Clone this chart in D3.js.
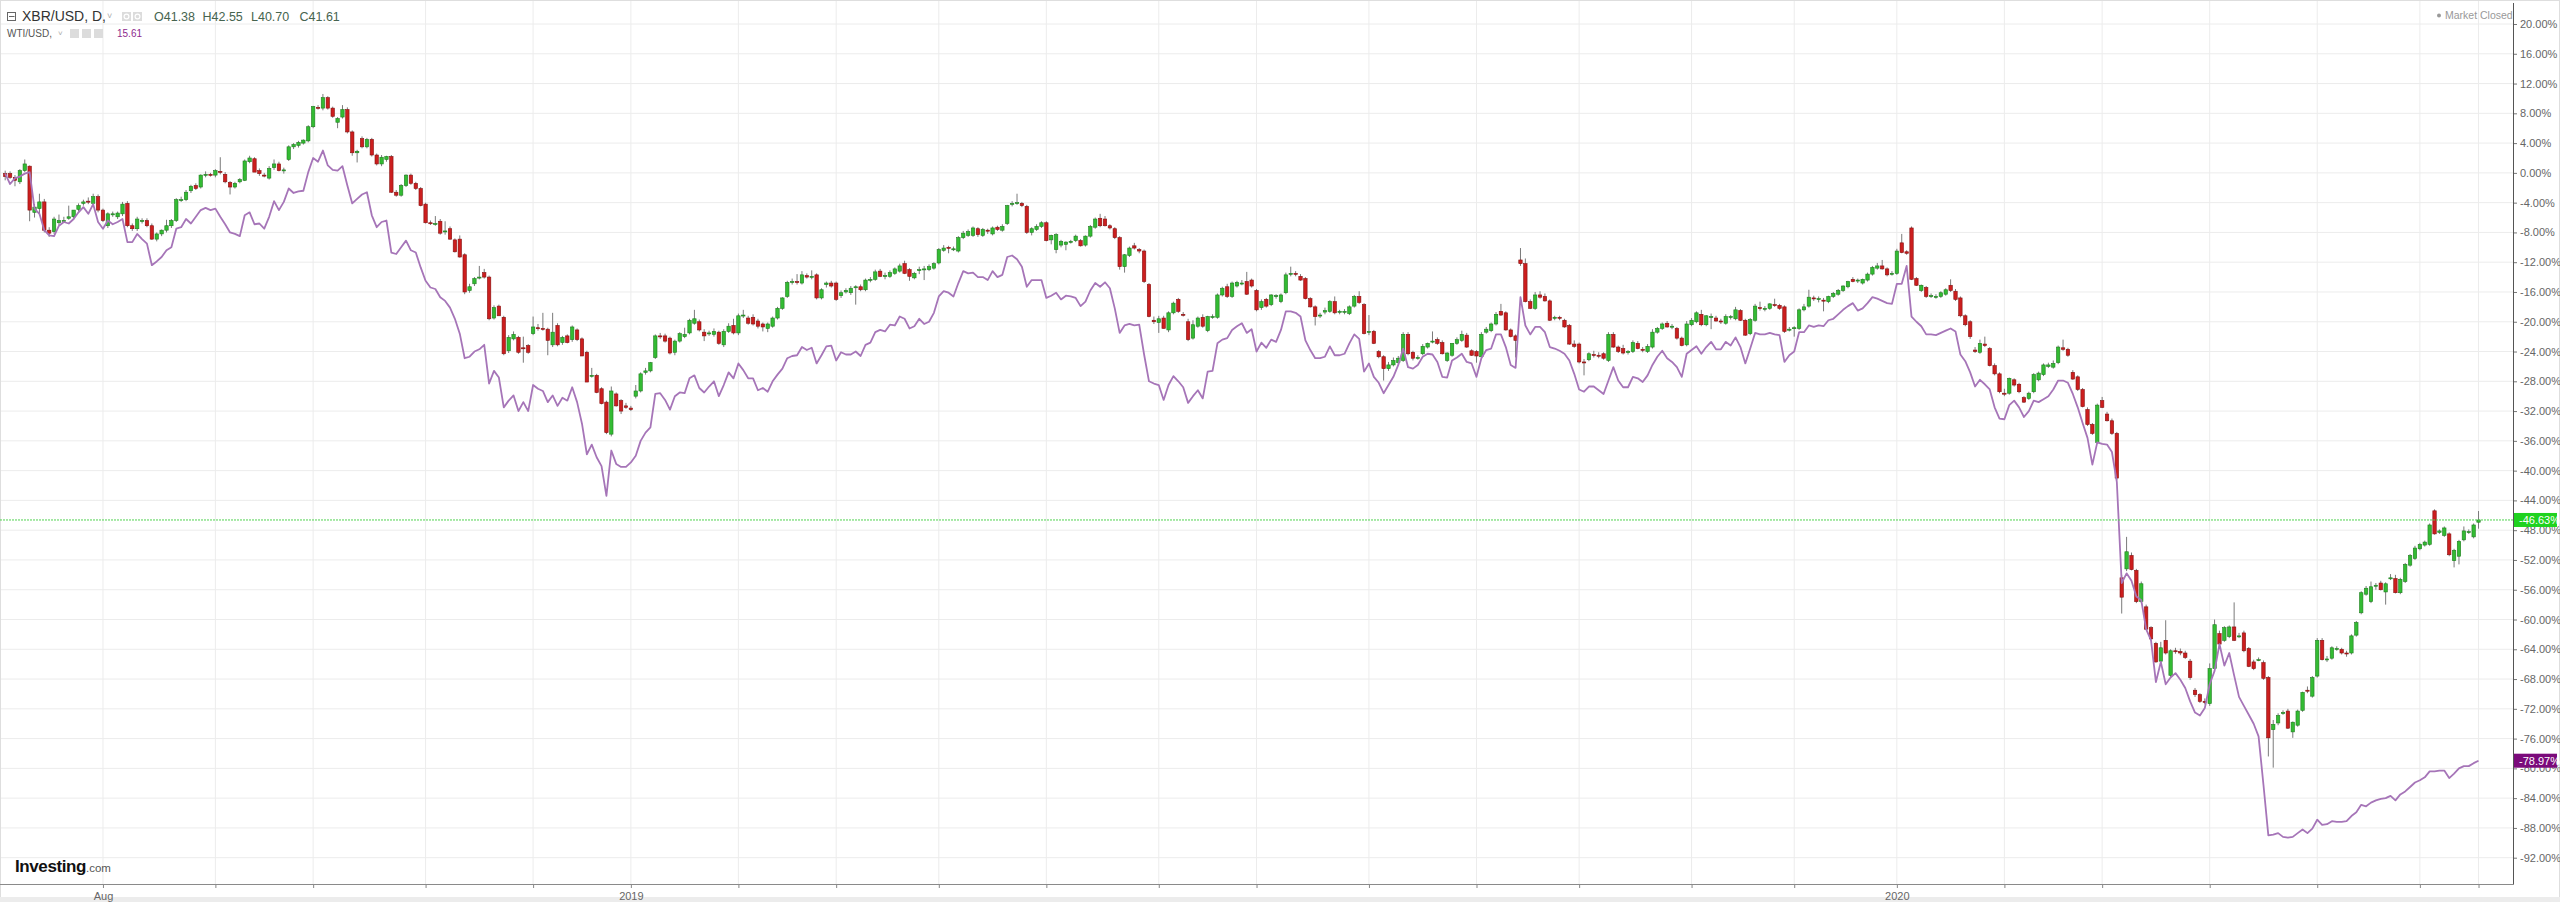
<!DOCTYPE html>
<html>
<head>
<meta charset="utf-8">
<script src="https://cdn.jsdelivr.net/npm/d3@7"></script>
<style>
  body { margin: 0; background: #fff; }
  svg { display: block; font-family: 'Liberation Sans', Arial, sans-serif; }
</style>
</head>
<body>
<svg id="svg" width="2560" height="902"></svg>
<script>
// XBR/USD daily candles as % change from the first day: [open, high, low, close]
const xbrCandles = [
  [-0.1,0.3,-1.0,-0.5],[-0.1,0.2,-0.8,-0.6],[-0.6,-0.3,-1.8,-1.0],[-1.2,0.5,-1.5,0.3],[0.3,1.8,0.1,1.2],[0.9,1.0,-6.5,-5.0],
  [-5.3,-4.2,-6.0,-4.6],[-4.8,-2.8,-5.5,-3.9],[-3.9,-3.5,-8.0,-7.7],[-7.7,-7.3,-8.6,-8.1],[-7.9,-5.9,-8.2,-6.2],[-6.7,-5.6,-7.0,-6.4],
  [-6.4,-5.9,-6.7,-6.4],[-6.1,-4.4,-6.3,-5.9],[-5.9,-5.0,-6.3,-5.0],[-4.9,-4.1,-5.2,-4.4],[-4.1,-3.6,-4.4,-3.9],[-3.8,-3.3,-4.2,-3.9],
  [-4.1,-2.8,-4.3,-3.2],[-3.2,-2.9,-5.3,-5.0],[-5.0,-4.8,-6.6,-6.4],[-7.1,-5.3,-7.4,-5.5],[-5.5,-5.2,-5.9,-5.5],[-5.9,-5.2,-6.2,-5.4],
  [-5.5,-3.9,-5.8,-4.2],[-4.1,-3.8,-7.3,-7.1],[-7.1,-6.8,-7.8,-7.5],[-7.5,-5.9,-7.8,-6.2],[-6.4,-6.1,-6.8,-6.4],[-6.4,-6.1,-7.3,-7.1],
  [-7.1,-6.8,-9.0,-8.9],[-8.9,-8.0,-9.2,-8.2],[-8.2,-7.6,-8.5,-7.7],[-7.7,-6.3,-8.0,-7.1],[-7.1,-6.2,-7.4,-6.4],[-6.4,-3.4,-6.6,-3.6],
  [-3.6,-3.2,-3.9,-3.6],[-3.6,-2.3,-3.8,-2.6],[-2.4,-1.6,-2.7,-1.8],[-1.7,-1.4,-2.3,-2.1],[-1.9,-0.2,-2.1,-0.3],[-0.3,0.2,-0.6,-0.2],
  [-0.2,0.0,-0.5,-0.3],[-0.3,0.5,-0.6,0.3],[0.2,2.1,-0.2,0.1],[-0.2,0.1,-1.4,-1.2],[-1.3,-1.1,-2.9,-1.9],[-1.9,-1.2,-2.1,-1.4],
  [-1.2,-0.7,-1.4,-0.9],[-1.0,1.8,-1.1,1.6],[1.5,2.3,1.3,2.0],[1.9,2.1,0.3,0.1],[0.3,0.6,-0.4,-0.1],[-0.3,0.0,-0.6,-0.4],
  [-0.7,0.9,-0.9,0.6],[0.7,1.8,0.4,1.2],[1.2,1.5,0.2,0.3],[0.4,0.7,-0.1,0.4],[1.8,3.7,1.6,3.5],[3.5,4.0,3.2,3.8],
  [3.7,4.3,3.4,4.1],[4.0,4.5,3.8,4.4],[4.3,6.4,4.1,6.2],[6.2,9.0,6.0,8.9],[8.8,9.1,8.5,8.7],[8.7,10.6,8.4,10.1],
  [10.1,10.3,8.5,8.7],[8.7,8.9,7.4,7.6],[6.8,7.5,6.0,7.3],[7.5,9.1,7.3,8.5],[8.5,8.8,5.3,5.5],[5.5,5.7,2.3,2.7],
  [2.7,3.1,1.4,2.9],[4.6,4.9,3.3,3.5],[3.5,4.7,3.3,4.5],[4.5,4.7,2.2,2.4],[2.4,2.6,1.0,1.2],[1.2,2.4,0.9,2.1],
  [1.8,2.3,1.5,2.2],[2.2,2.4,-2.7,-2.6],[-2.6,-2.3,-3.2,-3.0],[-3.0,-1.5,-3.2,-1.7],[-1.7,-0.2,-1.9,-0.3],[-0.3,-0.1,-1.6,-1.4],
  [-1.4,-1.2,-2.3,-2.1],[-2.1,-1.9,-4.5,-4.4],[-4.2,-4.0,-6.8,-6.7],[-6.7,-6.4,-7.0,-6.8],[-6.8,-5.8,-7.1,-6.8],[-6.5,-6.2,-8.3,-8.1],
  [-7.9,-6.5,-8.3,-7.8],[-7.5,-7.2,-9.0,-8.9],[-9.0,-8.8,-10.7,-10.6],[-8.9,-8.4,-11.4,-11.3],[-11.0,-10.8,-16.3,-16.0],[-15.8,-14.9,-16.1,-15.3],
  [-14.9,-14.0,-15.2,-14.2],[-14.0,-12.5,-14.3,-14.0],[-13.4,-12.9,-14.2,-14.0],[-14.0,-13.8,-19.8,-19.6],[-19.5,-17.8,-19.7,-18.1],[-17.9,-17.7,-19.2,-19.2],
  [-19.4,-19.2,-24.5,-24.3],[-23.9,-21.8,-24.2,-22.1],[-22.3,-21.3,-22.5,-21.7],[-22.1,-21.9,-24.3,-24.1],[-23.5,-22.0,-25.5,-23.6],[-23.2,-23.0,-24.3,-24.1],
  [-21.6,-19.3,-21.8,-20.7],[-20.8,-20.3,-21.2,-20.9],[-20.9,-18.8,-21.2,-21.0],[-21.0,-20.8,-24.5,-22.5],[-23.1,-18.8,-23.4,-21.4],[-20.5,-20.2,-23.3,-23.1],
  [-22.8,-21.9,-23.1,-22.1],[-21.9,-21.7,-22.9,-22.8],[-22.4,-20.5,-22.7,-20.7],[-21.1,-20.9,-22.6,-22.4],[-22.3,-22.1,-24.6,-24.6],[-24.1,-23.9,-28.1,-28.1],
  [-27.2,-26.2,-27.5,-27.2],[-27.2,-27.0,-29.6,-29.5],[-29.0,-28.8,-31.1,-31.0],[-30.8,-30.6,-35.1,-34.9],[-35.1,-28.7,-35.4,-29.3],[-29.7,-29.5,-31.4,-31.3],
  [-30.6,-30.4,-32.4,-32.0],[-31.3,-30.9,-31.7,-31.5],[-31.6,-31.3,-32.0,-31.8],[-30.0,-28.5,-30.3,-29.3],[-29.3,-26.8,-29.5,-27.0],[-26.8,-26.2,-27.1,-26.6],
  [-26.6,-25.4,-26.8,-25.5],[-24.8,-21.7,-25.0,-21.9],
  [-21.9,-21.5,-22.3,-22.0],[-21.9,-21.6,-22.8,-22.6],[-22.2,-22.0,-24.4,-24.2],[-24.1,-22.4,-24.5,-22.6],[-22.6,-21.4,-22.8,-21.6],[-22.0,-20.8,-22.2,-21.7],
  [-21.5,-19.6,-21.7,-19.8],[-20.2,-18.4,-20.4,-19.6],[-20.0,-19.7,-21.3,-21.1],[-21.4,-21.0,-22.6,-21.9],[-21.6,-21.2,-21.9,-21.5],[-21.7,-20.9,-22.0,-21.3],
  [-21.4,-21.2,-23.1,-22.9],[-23.1,-21.0,-23.4,-21.3],[-21.3,-20.2,-21.5,-20.6],[-20.5,-19.6,-21.7,-21.5],[-21.5,-18.9,-21.8,-19.2],[-19.2,-18.4,-19.5,-19.1],
  [-19.5,-19.2,-20.4,-20.2],[-19.4,-19.0,-20.5,-20.3],[-19.9,-19.6,-20.9,-20.6],[-20.3,-20.1,-21.3,-20.7],[-20.9,-20.1,-21.4,-20.3],[-20.6,-19.3,-20.8,-19.5],
  [-19.5,-18.0,-19.7,-18.2],[-18.2,-16.7,-18.4,-16.8],[-16.6,-14.5,-16.8,-14.7],[-14.6,-14.2,-15.0,-14.6],[-14.6,-13.6,-15.0,-14.7],[-14.8,-13.2,-15.0,-13.7],
  [-13.8,-13.5,-14.2,-14.0],[-13.9,-13.1,-14.3,-13.9],[-13.7,-13.5,-17.0,-16.8],[-16.8,-15.5,-17.0,-15.7],[-15.0,-14.6,-15.4,-14.8],[-14.8,-14.5,-15.4,-15.2],
  [-14.8,-14.6,-17.2,-17.0],[-16.5,-15.8,-16.8,-16.1],[-16.0,-15.5,-16.2,-15.8],[-16.1,-15.2,-16.4,-15.5],[-15.4,-15.1,-17.7,-15.3],[-15.3,-15.0,-15.9,-15.7],
  [-15.7,-14.2,-15.9,-14.4],[-14.4,-14.0,-14.7,-14.3],[-14.3,-13.0,-14.5,-13.3],[-13.2,-12.9,-14.0,-13.9],[-13.8,-13.4,-14.3,-13.8],[-13.9,-13.1,-14.1,-13.4],
  [-13.5,-12.7,-13.7,-12.9],[-13.2,-12.2,-13.4,-12.5],[-12.2,-11.8,-13.6,-13.5],[-13.0,-12.8,-14.5,-13.9],[-14.1,-13.3,-14.3,-13.5],[-13.1,-12.6,-13.6,-13.0],
  [-12.9,-12.5,-14.4,-12.9],[-13.0,-12.3,-13.2,-12.6],[-12.8,-12.0,-13.0,-12.2],[-12.1,-10.1,-12.3,-10.3],[-10.4,-9.7,-10.6,-10.1],[-10.0,-9.8,-10.8,-10.1],
  [-10.2,-9.9,-10.5,-10.2],[-10.5,-8.5,-10.7,-8.7],[-8.7,-7.8,-8.9,-8.1],[-8.4,-7.6,-8.6,-7.9],[-8.4,-7.2,-8.6,-7.4],[-7.5,-7.3,-8.6,-8.3],
  [-8.4,-7.4,-8.6,-7.6],[-7.7,-7.5,-8.2,-7.8],[-8.2,-7.2,-8.4,-7.4],[-7.3,-7.1,-7.8,-7.6],[-7.7,-6.9,-7.9,-7.2],[-6.8,-4.3,-7.0,-4.4],
  [-4.2,-3.8,-4.5,-4.1],[-4.1,-2.8,-4.3,-4.0],[-4.1,-3.9,-4.6,-4.4],[-4.5,-4.3,-8.2,-8.0],[-8.0,-7.3,-8.4,-7.5],[-7.6,-6.9,-7.8,-7.2],
  [-7.2,-6.5,-7.4,-6.7],[-6.7,-6.5,-9.2,-9.1],[-9.0,-8.3,-9.6,-8.4],[-10.3,-8.1,-10.8,-8.3],[-9.7,-9.0,-10.0,-9.2],[-9.6,-9.2,-10.4,-9.3],
  [-9.2,-9.0,-9.5,-9.2],[-9.1,-8.3,-9.3,-8.5],[-9.1,-8.9,-9.9,-9.8],[-9.7,-8.4,-9.9,-8.5],[-8.5,-7.0,-8.7,-7.2],[-7.3,-6.0,-7.5,-6.2],
  [-6.1,-5.5,-7.3,-7.1],[-6.2,-5.8,-7.2,-7.1],[-7.1,-6.9,-7.6,-7.4],[-7.5,-7.3,-8.9,-8.7],[-8.7,-8.5,-13.0,-12.6],[-12.6,-10.9,-13.4,-11.0],
  [-11.1,-9.9,-11.3,-10.1],[-9.8,-9.4,-10.3,-10.1],[-10.3,-10.1,-10.8,-10.5],[-10.5,-10.3,-14.8,-14.6],[-15.0,-14.8,-19.4,-19.3],[-19.8,-19.3,-20.3,-20.0],
  [-20.1,-19.2,-21.5,-19.6],[-19.5,-19.2,-20.9,-20.9],[-21.1,-18.6,-21.4,-18.8],[-18.8,-17.3,-19.0,-17.5],[-17.0,-16.8,-18.8,-18.6],[-19.0,-18.7,-19.3,-19.1],
  [-20.0,-19.6,-22.6,-22.4],[-22.2,-19.8,-22.4,-20.4],[-20.6,-19.3,-20.8,-19.5],[-19.4,-19.0,-20.8,-20.6],[-21.2,-19.2,-21.4,-19.3],[-19.3,-19.0,-19.6,-19.3],
  [-19.4,-16.2,-19.6,-16.4],[-16.4,-15.3,-16.6,-15.5],[-15.3,-14.9,-16.8,-16.6],[-16.6,-14.6,-16.8,-14.8],[-15.2,-14.5,-15.4,-14.7],[-14.8,-14.4,-15.1,-14.8],
  [-14.6,-13.3,-16.4,-16.3],[-14.4,-14.2,-15.4,-15.2],[-15.8,-15.6,-18.6,-18.4],[-18.1,-17.0,-18.4,-17.3],[-17.0,-16.8,-18.1,-17.9],[-17.7,-16.3,-17.9,-16.4],
  [-16.6,-16.3,-16.9,-16.5],[-17.3,-16.2,-17.5,-16.4],[-16.1,-13.4,-16.3,-13.7],[-13.6,-12.6,-13.9,-13.5],[-13.5,-13.2,-13.9,-13.6],
  [-13.9,-13.6,-14.5,-14.4],[-14.2,-14.0,-17.0,-16.9],[-16.9,-16.7,-18.1,-18.0],[-18.0,-17.8,-20.5,-19.3],[-19.1,-18.8,-19.5,-19.1],[-18.7,-18.1,-19.0,-18.5],
  [-18.6,-17.1,-18.8,-17.3],[-17.3,-16.6,-19.0,-18.8],[-18.7,-18.4,-19.0,-18.6],[-18.6,-18.3,-19.0,-18.6],[-18.9,-17.8,-19.1,-18.0],[-17.9,-16.4,-18.1,-16.6],
  [-16.6,-15.9,-17.6,-17.4],[-17.7,-17.5,-21.7,-21.6],[-21.4,-19.1,-21.8,-21.3],[-21.3,-21.1,-23.0,-22.9],[-24.0,-23.8,-24.9,-24.7],[-24.7,-24.5,-27.9,-26.3],
  [-26.3,-25.4,-26.6,-25.8],[-25.8,-24.8,-26.0,-25.2],[-25.5,-24.6,-25.7,-24.9],[-25.2,-21.4,-25.4,-21.7],[-21.7,-21.4,-24.5,-24.3],[-24.1,-23.9,-25.2,-24.9],
  [-24.8,-24.5,-25.1,-24.8],[-24.3,-23.0,-24.5,-23.3],[-23.4,-22.8,-23.6,-22.9],[-22.6,-21.3,-22.9,-22.6],[-22.4,-22.1,-23.1,-22.9],[-22.8,-22.5,-24.4,-24.3],
  [-25.2,-24.1,-25.4,-24.2],[-24.5,-22.9,-24.7,-22.9],[-22.9,-22.1,-23.1,-22.4],[-22.5,-21.2,-22.7,-21.7],[-21.8,-21.5,-23.5,-23.4],[-23.9,-23.7,-24.6,-24.5],
  [-24.0,-23.8,-25.5,-24.6],[-24.7,-21.4,-24.9,-21.7],[-21.4,-20.7,-21.6,-21.0],[-21.2,-20.1,-21.4,-20.3],[-20.3,-18.7,-20.5,-19.0],[-18.6,-17.6,-19.2,-19.1],
  [-18.8,-18.6,-21.2,-21.1],[-21.1,-20.9,-22.1,-22.0],[-21.9,-21.7,-24.8,-22.5],[-11.7,-10.1,-12.5,-12.2],[-12.2,-11.5,-17.4,-17.3],[-17.3,-17.0,-18.3,-18.2],
  [-18.2,-16.0,-18.4,-16.4],[-16.4,-15.9,-16.9,-16.7],[-16.6,-16.2,-17.3,-17.2],[-17.2,-17.0,-19.9,-19.8],[-19.5,-19.2,-19.8,-19.4],[-19.4,-19.2,-19.8,-19.5],
  [-19.8,-19.6,-20.8,-20.7],[-20.5,-20.3,-23.1,-23.0],[-23.0,-22.5,-23.5,-23.3],[-23.0,-22.8,-25.6,-25.4],[-25.4,-25.0,-27.2,-25.5],[-25.1,-24.1,-25.3,-24.3],
  [-24.4,-23.9,-24.8,-24.5],[-24.5,-24.1,-24.9,-24.6],[-24.3,-24.1,-25.1,-24.9],[-25.2,-21.4,-25.4,-21.7],[-21.7,-21.4,-23.5,-23.4],[-23.4,-23.2,-24.2,-24.0],
  [-23.6,-23.1,-24.4,-24.2],[-24.1,-23.8,-24.4,-24.0],[-24.0,-22.5,-24.2,-22.8],[-22.9,-22.6,-23.7,-23.6],[-23.7,-23.4,-24.1,-23.8],[-24.0,-23.0,-24.2,-23.3],
  [-23.4,-21.0,-23.6,-21.4],[-21.4,-20.7,-21.6,-20.9],[-20.9,-20.1,-21.1,-20.3],[-20.2,-19.9,-20.8,-20.7],[-20.7,-20.3,-21.0,-20.6],[-20.9,-20.7,-22.4,-22.2],
  [-22.2,-22.0,-23.3,-23.2],[-23.1,-19.9,-23.3,-20.3],[-20.4,-19.5,-20.6,-19.8],[-20.0,-18.6,-20.2,-18.8],[-19.0,-18.4,-20.6,-20.4],[-20.4,-19.1,-20.6,-19.2],
  [-19.3,-18.9,-21.0,-19.3],[-19.5,-19.2,-20.0,-19.9],[-19.9,-19.6,-20.3,-20.0],[-20.2,-19.0,-20.4,-19.3],[-19.4,-19.1,-19.7,-19.3],[-19.6,-18.0,-19.8,-18.4],
  [-18.5,-18.3,-19.9,-19.8],[-19.8,-19.6,-21.9,-21.8],[-21.6,-19.5,-21.8,-19.7],[-19.8,-17.6,-20.0,-17.9],[-18.1,-17.3,-18.5,-18.2],[-18.2,-17.9,-18.6,-18.2],
  [-18.2,-17.5,-18.4,-17.6],[-17.7,-16.9,-18.0,-17.8],[-17.8,-17.6,-18.4,-18.2],[-18.0,-17.8,-21.5,-21.3],[-21.0,-20.7,-21.3,-21.0],[-20.9,-20.6,-22.0,-20.8],
  [-20.9,-18.2,-21.1,-18.4],[-18.4,-17.6,-18.6,-18.0],[-17.9,-15.7,-18.1,-16.7],[-16.8,-16.5,-17.2,-16.9],[-16.9,-16.6,-17.4,-16.9],[-17.1,-16.8,-18.6,-17.2],
  [-17.3,-16.5,-17.5,-16.6],[-16.6,-16.0,-16.8,-16.2],[-16.3,-15.6,-16.5,-15.8],[-15.8,-15.1,-16.0,-15.2],[-15.3,-14.5,-15.5,-14.6],[-14.3,-14.0,-14.7,-14.6],
  [-14.5,-14.2,-14.8,-14.4],[-14.8,-14.2,-15.0,-14.3],[-14.4,-13.4,-14.6,-13.6],[-13.6,-12.5,-13.8,-12.7],[-12.8,-12.1,-13.0,-12.5],[-12.5,-11.7,-13.0,-12.9],
  [-12.9,-12.7,-13.9,-13.7],[-13.5,-13.2,-13.8,-13.5],[-13.5,-10.2,-13.7,-10.5],[-9.4,-8.2,-10.8,-10.7],[-10.6,-10.4,-11.0,-10.8],[-7.4,-7.2,-14.4,-14.3],
  [-14.2,-14.0,-15.2,-15.1],[-15.8,-15.0,-16.0,-15.1],[-15.4,-15.2,-16.8,-16.6],[-16.5,-16.2,-16.8,-16.5],
  [-16.6,-16.3,-16.9,-16.6],[-16.6,-15.9,-16.8,-16.1],[-16.3,-15.5,-16.5,-15.7],[-15.1,-14.3,-16.0,-15.8],[-15.9,-15.6,-17.2,-17.0],[-16.8,-16.6,-19.4,-19.2],
  [-19.2,-19.0,-20.6,-20.4],[-20.0,-19.8,-22.3,-22.0],[-23.8,-23.4,-24.2,-24.0],[-24.1,-22.4,-24.3,-22.9],[-23.0,-22.0,-23.4,-23.2],[-23.6,-23.4,-26.0,-25.9],
  [-25.9,-25.6,-27.2,-27.0],[-27.0,-26.8,-29.6,-29.4],[-29.6,-29.0,-30.0,-29.7],[-29.6,-27.5,-29.8,-27.6],[-27.8,-27.6,-28.7,-28.5],[-28.4,-28.2,-29.6,-29.4],
  [-30.2,-30.0,-30.9,-30.8],[-30.3,-29.4,-30.5,-29.6],[-29.4,-26.9,-29.6,-27.1],[-27.8,-26.7,-28.0,-26.9],[-27.1,-25.6,-27.3,-25.8],[-26.0,-25.5,-26.2,-25.8],
  [-26.1,-25.2,-26.3,-25.6],[-25.5,-23.2,-25.7,-23.4],[-23.5,-22.4,-23.9,-23.7],[-23.7,-23.5,-24.7,-24.5],[-26.8,-26.5,-27.8,-27.7],[-27.4,-27.2,-29.3,-29.1],
  [-29.1,-28.9,-31.5,-31.4],[-31.8,-31.5,-34.0,-33.8],[-33.8,-33.6,-35.2,-35.0],[-36.2,-31.0,-36.4,-31.2],[-30.6,-30.1,-31.6,-31.5],[-32.4,-32.1,-33.4,-33.3],
  [-33.3,-33.0,-35.2,-35.0],[-35.0,-34.8,-41.3,-41.0],[-54.4,-54.0,-59.2,-57.0],[-53.2,-48.9,-53.5,-50.9],[-51.4,-51.0,-53.4,-53.3],[-53.4,-53.2,-57.8,-57.6],
  [-57.6,-54.9,-57.8,-55.2],[-58.3,-58.0,-61.4,-61.3],[-61.1,-60.9,-62.8,-62.6],[-63.2,-63.0,-65.8,-65.7],[-65.6,-63.0,-65.9,-63.8],[-62.8,-60.1,-64.7,-64.5],
  [-67.5,-64.0,-67.8,-64.2],[-64.2,-63.8,-64.6,-64.3],[-64.3,-63.9,-64.8,-64.5],[-64.5,-64.2,-65.3,-65.1],[-65.6,-65.3,-68.1,-67.8],[-69.5,-69.2,-70.4,-70.1],
  [-70.1,-69.9,-71.2,-71.0],[-71.0,-70.6,-71.4,-71.1],[-71.3,-65.9,-71.6,-66.6],[-66.6,-60.0,-66.8,-60.7],[-61.9,-61.5,-63.5,-63.3],[-62.8,-60.9,-63.0,-61.1],
  [-62.3,-60.8,-62.5,-61.0],[-61.0,-57.7,-62.9,-62.8],[-62.2,-61.8,-62.5,-62.2],[-61.8,-61.5,-64.4,-64.2],[-63.9,-63.7,-66.4,-66.3],[-65.7,-65.4,-66.8,-66.6],
  [-65.4,-65.1,-65.6,-65.4],[-65.8,-65.5,-68.1,-67.9],[-67.8,-67.6,-78.4,-75.9],[-74.8,-73.5,-79.9,-74.1],[-73.9,-72.6,-74.2,-72.9],[-72.5,-72.2,-72.8,-72.5],
  [-72.3,-72.0,-74.7,-74.6],[-75.1,-73.7,-75.9,-73.8],[-74.2,-72.1,-74.4,-72.3],[-72.2,-69.7,-72.4,-69.8],[-69.5,-69.0,-69.9,-69.6],[-70.3,-67.6,-70.5,-67.8],
  [-67.6,-62.5,-67.8,-62.8],[-62.8,-62.5,-65.5,-65.4],[-65.4,-64.9,-65.7,-65.3],[-65.2,-63.6,-65.4,-63.8],[-63.9,-63.6,-64.2,-63.9],[-64.0,-63.8,-64.7,-64.5],
  [-64.5,-64.2,-65.0,-64.6],[-64.5,-62.0,-64.7,-62.2],[-62.1,-60.2,-62.3,-60.4],[-59.1,-56.2,-59.3,-56.4],[-56.6,-55.5,-56.8,-55.8],[-57.6,-54.9,-57.8,-55.6],
  [-55.5,-55.1,-56.0,-55.4],[-55.1,-54.8,-56.1,-56.0],[-56.3,-55.0,-58.0,-55.2],[-54.4,-53.9,-54.7,-54.4],[-54.5,-54.0,-56.5,-56.4],[-56.4,-54.4,-56.6,-54.6],
  [-54.9,-52.4,-55.1,-52.6],[-52.7,-51.2,-52.9,-51.4],[-51.8,-50.1,-52.0,-50.4],[-50.5,-49.7,-50.7,-49.9],[-50.0,-49.4,-50.2,-49.6],[-49.9,-47.1,-50.1,-47.3],
  [-45.4,-45.2,-48.6,-48.5],[-48.3,-47.9,-48.5,-48.1],[-48.7,-47.5,-48.9,-47.7],[-48.5,-48.3,-51.5,-51.3],[-52.1,-50.5,-53.0,-50.7],[-51.5,-49.3,-52.6,-49.5],
  [-49.3,-47.5,-49.5,-48.1],[-48.3,-47.9,-48.5,-48.2],[-48.9,-47.1,-49.1,-47.3],[-46.93,-45.43,-47.8,-46.63]
];

// WTI/USD daily close, % change from the first day
const wtiLine = [
  -0.1,-1.5,-0.7,-0.5,-0.1,0.1,-4.8,-5.5,-7.7,-8.4,-8.5,-7.1,-6.6,-6.8,-6.2,-5.3,-4.6,-5.5,-4.2,-6.6,
  -7.5,-6.4,-6.9,-6.6,-6.2,-9.3,-9.3,-8.2,-8.9,-9.5,-12.4,-11.9,-11.3,-10.4,-10.0,-7.5,-7.3,-6.2,-6.8,-5.9,
  -5.0,-4.7,-5.0,-4.8,-5.9,-6.9,-8.0,-8.2,-8.5,-5.7,-5.3,-6.9,-6.8,-7.5,-5.9,-3.8,-5.0,-3.9,-2.1,-2.7,
  -2.5,-2.4,0.1,2.0,1.5,3.0,1.0,0.4,0.3,0.9,-1.7,-4.1,-3.5,-2.9,-2.6,-5.7,-7.3,-6.6,-6.4,-10.7,
  -10.9,-10.0,-9.1,-10.4,-10.7,-12.7,-14.5,-15.4,-15.6,-16.7,-17.2,-18.1,-19.6,-21.6,-24.9,-24.7,-24.0,-23.7,-23.1,-28.3,
  -26.6,-27.5,-31.5,-30.6,-29.9,-32.0,-30.8,-32.0,-28.5,-29.0,-29.3,-30.8,-29.9,-31.3,-30.2,-30.6,-28.8,-30.8,-33.7,-37.8,
  -36.5,-38.2,-39.4,-43.4,-37.3,-39.1,-39.5,-39.5,-38.9,-38.0,-36.0,-34.9,-34.2,-29.7,
  -29.6,-30.5,-31.8,-30.0,-29.5,-29.6,-27.6,-27.2,-28.9,-29.5,-28.7,-28.0,-30.0,-28.5,-26.8,-27.6,-25.6,-26.5,-27.6,-27.6,
  -29.2,-28.9,-29.4,-28.0,-27.1,-26.3,-24.9,-24.6,-24.5,-23.4,-23.8,-23.5,-25.6,-24.5,-23.3,-23.2,-25.2,-24.1,-24.4,-24.4,
  -24.0,-24.6,-23.1,-22.8,-21.4,-21.1,-21.3,-20.4,-20.5,-19.3,-19.6,-20.9,-20.6,-19.6,-20.3,-20.0,-18.8,-16.6,-15.9,-16.1,
  -16.6,-14.8,-13.2,-13.5,-13.4,-14.0,-14.0,-14.4,-13.2,-14.0,-13.7,-11.3,-11.1,-11.6,-12.6,-15.3,-14.4,-14.4,-14.4,-16.8,
  -16.5,-16.1,-17.0,-16.5,-16.6,-16.8,-17.9,-17.3,-15.8,-14.8,-15.3,-14.7,-15.5,-18.2,-21.5,-20.5,-20.3,-20.5,-20.4,-24.4,
  -28.0,-28.3,-28.5,-30.5,-28.5,-27.3,-28.0,-28.8,-30.9,-30.0,-29.2,-30.3,-26.7,-26.6,-22.9,-22.4,-22.2,-21.1,-20.6,-20.2,
  -21.5,-21.0,-24.0,-22.8,-23.5,-22.4,-22.7,-21.1,-18.6,-18.6,-18.8,
  -19.3,-22.5,-23.8,-24.9,-24.9,-24.7,-23.3,-24.5,-24.5,-24.3,-22.9,-21.7,-22.3,-26.7,-25.6,-27.4,-28.2,-29.6,-28.5,-27.4,
  -25.8,-23.6,-26.1,-26.3,-25.8,-24.7,-24.3,-24.4,-25.4,-27.4,-27.5,-25.2,-24.8,-24.3,-25.4,-25.6,-27.4,-24.9,-23.8,-23.6,
  -21.7,-21.7,-23.4,-25.8,-26.2,-16.7,-20.5,-21.7,-20.7,-20.7,-21.4,-23.4,-23.6,-23.9,-24.3,-25.2,-27.0,-29.1,-29.4,-28.7,
  -28.7,-29.2,-29.7,-27.9,-26.1,-27.9,-28.8,-28.8,-27.4,-27.6,-28.1,-27.2,-25.8,-24.7,-23.9,-24.9,-25.4,-26.1,-27.4,-24.3,
  -23.8,-23.3,-24.3,-23.4,-22.7,-23.7,-23.7,-22.7,-23.2,-22.1,-23.4,-25.6,-23.6,-21.5,-21.7,-21.7,-21.5,-21.7,-21.8,-25.4,
  -24.5,-24.0,-21.4,-21.4,-20.5,-20.7,-20.5,-20.6,-19.8,-19.6,-19.0,-18.4,-17.9,-17.5,-18.5,-18.2,-17.5,-16.7,-16.9,-17.2,
  -17.5,-17.6,-14.9,-14.9,-12.5,-19.3,-20.0,-20.6,-21.7,-21.7,
  -21.8,-21.5,-21.2,-20.9,-21.3,-24.4,-25.3,-26.8,-28.7,-27.8,-28.4,-29.1,-31.5,-33.0,-33.1,-31.2,-30.6,-31.5,-32.8,-32.0,
  -30.6,-30.8,-30.4,-30.0,-29.1,-27.9,-27.9,-28.2,-29.7,-31.5,-33.6,-35.6,-39.2,-36.2,-36.4,-36.5,-37.5,-41.5,-55.1,-53.8,
  -54.8,-56.9,-57.4,-61.3,-62.8,-68.4,-65.7,-68.7,-67.8,-67.2,-68.1,-69.2,-71.0,-72.5,-72.9,-71.9,-68.7,-66.9,-63.3,-66.2,
  -64.5,-67.5,-70.4,-71.6,-72.8,-74.0,-75.7,-82.2,-89.0,-88.9,-88.7,-89.2,-89.3,-89.2,-88.7,-88.2,-88.7,-88.1,-86.9,-87.6,
  -87.5,-87.1,-87.2,-87.2,-87.1,-86.4,-85.9,-84.9,-85.1,-84.6,-84.3,-84.1,-84.0,-83.7,-84.3,-83.5,-83.1,-82.5,-81.9,-81.6,
  -81.2,-80.4,-80.4,-80.3,-80.3,-81.3,-80.7,-80.0,-79.7,-79.7,-79.3,-78.97
];

const yTicks = d3.range(20, -93, -4);
const xLabels = [['2018-08', 'Aug'], ['2019-01', '2019'], ['2020-01', '2020']];
const startDate = '2018-07-04';
const closedDays = ['12-25', '01-01'];
const lastXbr = -46.63;
const lastWti = -78.97;
const legendXbr = ['O41.38', 'H42.55', 'L40.70', 'C41.61'];
const legendWti = '15.61';

class CompareChart {
  constructor(_config) {
    this.config = {
      containerWidth: _config.containerWidth,
      containerHeight: _config.containerHeight,
      axisX: _config.axisX,
      axisY: _config.axisY,
      firstX: _config.firstX,
      candleStep: _config.candleStep,
      bodyWidth: 3.4
    };
    this.initVis();
  }

  initVis() {
    let vis = this;
    vis.svg = d3.select('#svg');

    // weekday calendar, same length as the candles
    vis.dates = [];
    let d = new Date(startDate + 'T00:00:00Z');
    while (vis.dates.length < xbrCandles.length) {
      const wd = d.getUTCDay();
      if (wd !== 0 && wd !== 6 && !closedDays.includes(d3.utcFormat('%m-%d')(d))) vis.dates.push(d);
      d = d3.utcDay.offset(d, 1);
    }

    const n = vis.dates.length;
    vis.xScale = d3.scaleLinear()
      .domain([0, n - 1])
      .range([vis.config.firstX, vis.config.firstX + vis.config.candleStep * (n - 1)]);

    vis.yScale = d3.scaleLinear()
      .domain([20, -92])
      .range([24, 857.7]);

    const ym = d3.utcFormat('%Y-%m');
    vis.monthTicks = d3.range(1, n).filter(i => ym(vis.dates[i]) !== ym(vis.dates[i - 1]));
    vis.monthTicks.push(n - 1);
    vis.labelOf = new Map(xLabels);

    vis.renderVis();
  }

  renderVis() {
    let vis = this;
    const c = vis.config;
    const x = vis.xScale, y = vis.yScale;

    vis.svg.append('rect')
      .attr('x', 0.5).attr('y', 0.5)
      .attr('width', c.containerWidth - 1).attr('height', c.containerHeight - 1)
      .attr('fill', '#fff').attr('stroke', '#dedede');

    vis.svg.append('rect')
      .attr('x', 0).attr('y', c.containerHeight - 5)
      .attr('width', c.containerWidth).attr('height', 5)
      .attr('fill', '#ececec');

    // grid
    vis.svg.append('g').selectAll('line')
      .data(yTicks)
      .join('line')
      .attr('x1', 1).attr('x2', c.axisX)
      .attr('y1', d => y(d)).attr('y2', d => y(d))
      .attr('stroke', '#ececec');

    vis.svg.append('g').selectAll('line')
      .data(vis.monthTicks)
      .join('line')
      .attr('x1', d => x(d)).attr('x2', d => x(d))
      .attr('y1', 1).attr('y2', c.axisY)
      .attr('stroke', '#ececec');

    // axes
    vis.yAxis = d3.axisRight(y)
      .tickValues(yTicks)
      .tickSize(4)
      .tickPadding(3)
      .tickFormat(d => d.toFixed(2) + '%');

    vis.yAxisG = vis.svg.append('g')
      .attr('transform', `translate(${c.axisX},0)`)
      .call(vis.yAxis);
    vis.yAxisG.select('path.domain').remove();
    vis.yAxisG.selectAll('line').attr('stroke', '#777');
    vis.yAxisG.selectAll('text')
      .attr('fill', '#666')
      .style('font-size', '11px')
      .style('font-family', "'Liberation Sans', Arial, sans-serif");

    vis.xAxis = d3.axisBottom(x)
      .tickValues(vis.monthTicks)
      .tickSize(4)
      .tickPadding(4)
      .tickFormat(i => vis.labelOf.get(d3.utcFormat('%Y-%m')(vis.dates[i])) || '');

    vis.xAxisG = vis.svg.append('g')
      .attr('transform', `translate(0,${c.axisY})`)
      .call(vis.xAxis);
    vis.xAxisG.select('path.domain').remove();
    vis.xAxisG.selectAll('line').attr('stroke', '#888');
    vis.xAxisG.selectAll('text')
      .attr('fill', '#666')
      .style('font-size', '11px')
      .style('font-family', "'Liberation Sans', Arial, sans-serif");

    vis.svg.append('line')
      .attr('x1', 0).attr('x2', c.axisX + 0.5)
      .attr('y1', c.axisY + 0.5).attr('y2', c.axisY + 0.5)
      .attr('stroke', '#8a8a8a');
    vis.svg.append('line')
      .attr('x1', c.axisX + 0.5).attr('x2', c.axisX + 0.5)
      .attr('y1', 3).attr('y2', c.axisY + 0.5)
      .attr('stroke', '#555');

    // candles
    const candles = vis.svg.append('g');
    candles.selectAll('.wick')
      .data(xbrCandles)
      .join('line')
      .attr('class', 'wick')
      .attr('x1', (d, i) => x(i)).attr('x2', (d, i) => x(i))
      .attr('y1', d => y(d[1])).attr('y2', d => y(d[2]))
      .attr('stroke', '#7a7a7a')
      .attr('stroke-width', 1);

    candles.selectAll('.body')
      .data(xbrCandles)
      .join('rect')
      .attr('class', 'body')
      .attr('x', (d, i) => x(i) - c.bodyWidth / 2)
      .attr('y', d => y(Math.max(d[0], d[3])))
      .attr('width', c.bodyWidth)
      .attr('height', d => Math.max(1, Math.abs(y(d[0]) - y(d[3]))))
      .attr('fill', d => d[3] >= d[0] ? '#33bb33' : '#cc1e1e')
      .attr('stroke', d => d[3] >= d[0] ? '#1f7d1f' : '#861010')
      .attr('stroke-width', 0.6);

    // WTI comparison line
    vis.svg.append('path')
      .datum(wtiLine)
      .attr('d', d3.line().x((d, i) => x(i)).y(d => y(d)))
      .attr('fill', 'none')
      .attr('stroke', '#a675b8')
      .attr('stroke-width', 1.8)
      .attr('stroke-linejoin', 'round');

    // last price line and tags
    vis.svg.append('line')
      .attr('x1', 0).attr('x2', c.axisX)
      .attr('y1', y(lastXbr)).attr('y2', y(lastXbr))
      .attr('stroke', '#4fd24f')
      .attr('stroke-width', 1)
      .attr('stroke-dasharray', '2,1');

    const tags = [[lastXbr, '#1fd21f'], [lastWti, '#7b0a7b']];
    vis.svg.append('g').selectAll('g')
      .data(tags)
      .join('g')
      .attr('transform', d => `translate(${c.axisX + 1},${y(d[0])})`)
      .each(function(d) {
        const g = d3.select(this);
        g.append('rect')
          .attr('x', 0).attr('y', -7)
          .attr('width', 43).attr('height', 14)
          .attr('fill', d[1]);
        g.append('text')
          .attr('x', 5).attr('y', 4)
          .attr('fill', '#fff')
          .style('font-size', '11px')
          .text(d[0].toFixed(2) + '%');
      });

    // legend
    const legend = vis.svg.append('g').attr('transform', 'translate(7,0)');
    legend.append('rect')
      .attr('x', 0.5).attr('y', 12.5).attr('width', 8).attr('height', 8)
      .attr('fill', 'none').attr('stroke', '#666');
    legend.append('line')
      .attr('x1', 2).attr('x2', 7.5).attr('y1', 16.5).attr('y2', 16.5)
      .attr('stroke', '#666');
    legend.append('text')
      .attr('x', 15).attr('y', 21)
      .attr('fill', '#333')
      .style('font-size', '14px')
      .text('XBR/USD, D,');
    legend.append('text')
      .attr('x', 100).attr('y', 19)
      .attr('fill', '#aaa')
      .style('font-size', '9px')
      .text('\u02c5');
    [0, 1].forEach(k => {
      legend.append('rect')
        .attr('x', 115 + k * 11).attr('y', 12).attr('width', 9).attr('height', 9)
        .attr('fill', '#dcdcdc');
      legend.append('circle')
        .attr('cx', 119.5 + k * 11).attr('cy', 16.5).attr('r', 2.4)
        .attr('fill', 'none').attr('stroke', '#fff').attr('stroke-width', 1.2);
    });
    legend.selectAll('.ohlc')
      .data(legendXbr)
      .join('text')
      .attr('class', 'ohlc')
      .attr('x', (d, i) => 147 + i * 48.5)
      .attr('y', 21)
      .attr('fill', '#46644f')
      .style('font-size', '12.5px')
      .text(d => d);

    legend.append('text')
      .attr('x', 0).attr('y', 37)
      .attr('fill', '#555')
      .style('font-size', '10px')
      .text('WTI/USD,');
    legend.append('text')
      .attr('x', 51).attr('y', 36)
      .attr('fill', '#aaa')
      .style('font-size', '8px')
      .text('\u02c5');
    [0, 1, 2].forEach(k => {
      legend.append('rect')
        .attr('x', 63 + k * 12).attr('y', 29).attr('width', 9).attr('height', 9)
        .attr('fill', '#dcdcdc');
    });
    legend.append('text')
      .attr('x', 110).attr('y', 37)
      .attr('fill', '#8e2a8e')
      .style('font-size', '10px')
      .text(legendWti);

    // market status
    vis.svg.append('circle')
      .attr('cx', 2439).attr('cy', 15.5).attr('r', 2)
      .attr('fill', '#999');
    vis.svg.append('text')
      .attr('x', 2445).attr('y', 19)
      .attr('fill', '#999')
      .style('font-size', '10.5px')
      .text('Market Closed');

    // watermark
    const logo = vis.svg.append('text')
      .attr('x', 15).attr('y', 872)
      .attr('fill', '#111')
      .style('font-size', '17px')
      .style('font-weight', 700)
      .style('letter-spacing', '-0.4px');
    logo.append('tspan').text('Investing');
    logo.append('tspan')
      .style('font-size', '11.5px')
      .style('font-weight', 400)
      .style('letter-spacing', '0px')
      .attr('fill', '#555')
      .text('.com');
  }
}

new CompareChart({
  containerWidth: 2560,
  containerHeight: 902,
  axisX: 2513,
  axisY: 884,
  firstX: 5.2,
  candleStep: 4.888
});
</script>
</body>
</html>
